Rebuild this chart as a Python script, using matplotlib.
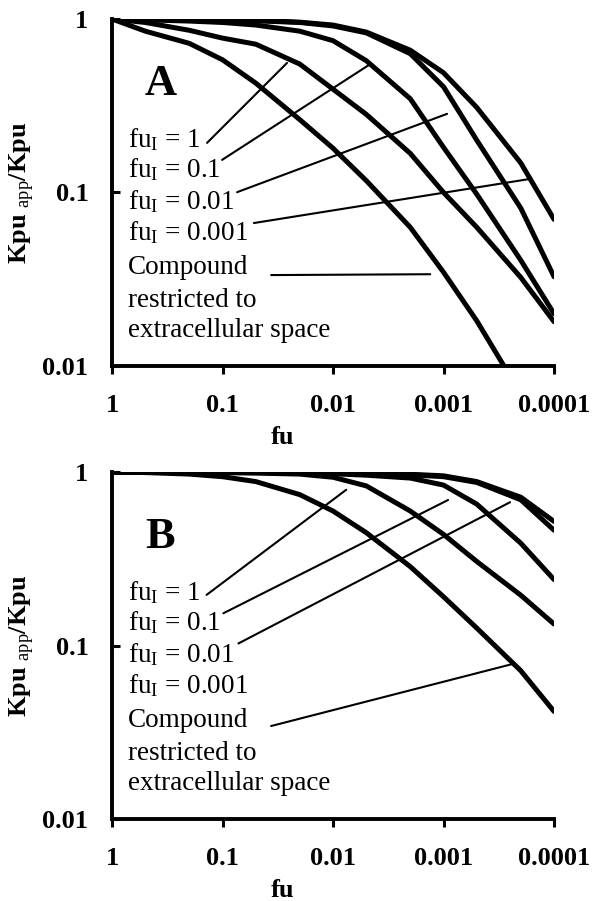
import numpy as np
import matplotlib
matplotlib.use('Agg')
import matplotlib.pyplot as plt
from matplotlib.ticker import FixedLocator, FixedFormatter, NullLocator

plt.rcParams['font.family'] = ['Liberation Serif', 'DejaVu Serif']
plt.rcParams['mathtext.fontset'] = 'custom'
plt.rcParams['mathtext.rm'] = 'Liberation Serif'
plt.rcParams['mathtext.it'] = 'Liberation Serif:italic'
plt.rcParams['mathtext.bf'] = 'Liberation Serif:bold'

# fu values of the plotted points (same for every curve)
fu = [1, 0.5, 0.2, 0.1, 0.05, 0.02, 0.01, 0.005, 0.002, 0.001, 0.0005, 0.0002, 0.0001]

# Panel A - Kpu app/Kpu
a_restricted = [1.0, 0.851, 0.724, 0.582, 0.427, 0.263, 0.180, 0.117, 0.063, 0.0347, 0.0182, 0.0069, 0.0035]
a_fui_1 = [1.0, 0.955, 0.861, 0.776, 0.716, 0.550, 0.394, 0.282, 0.168, 0.100, 0.063, 0.0324, 0.0180]
a_fui_01 = [1.0, 0.989, 0.973, 0.955, 0.923, 0.851, 0.750, 0.575, 0.347, 0.182, 0.0977, 0.0407, 0.020]
a_fui_001 = [1.0, 1.0, 0.993, 0.989, 0.977, 0.955, 0.912, 0.832, 0.631, 0.407, 0.200, 0.0813, 0.0327]
a_fui_0001 = [1.0, 1.0, 0.995, 0.991, 0.982, 0.959, 0.923, 0.841, 0.661, 0.490, 0.309, 0.148, 0.070]

# Panel B - Kpu app/Kpu
b_restricted = [1.0, 0.993, 0.973, 0.940, 0.881, 0.741, 0.596, 0.447, 0.285, 0.191, 0.126, 0.0716, 0.0417]
b_fui_1 = [1.0, 0.998, 0.995, 0.991, 0.986, 0.973, 0.933, 0.832, 0.596, 0.437, 0.305, 0.195, 0.133]
b_fui_01 = [1.0, 1.0, 0.998, 0.995, 0.993, 0.989, 0.977, 0.959, 0.923, 0.841, 0.653, 0.389, 0.240]
b_fui_001 = [1.0, 1.0, 1.0, 0.998, 0.995, 0.993, 0.986, 0.977, 0.964, 0.940, 0.871, 0.692, 0.462]
b_fui_0001 = [1.0, 1.0, 1.0, 0.998, 0.995, 0.993, 0.989, 0.982, 0.971, 0.951, 0.881, 0.716, 0.519]

legend_labels = [r'fu$_{\mathrm{I}}$ = 1', r'fu$_{\mathrm{I}}$ = 0.1', r'fu$_{\mathrm{I}}$ = 0.01',
                 r'fu$_{\mathrm{I}}$ = 0.001', 'Compound', 'restricted to', 'extracellular space']

x_ticks = [1, 0.1, 0.01, 0.001, 0.0001]
x_ticklabels = ['1', '0.1', '0.01', '0.001', '0.0001']
y_ticks = [0.01, 0.1, 1]
y_ticklabels = ['0.01', '0.1', '1']

# where the leader lines end (fu, value), order: fuI 1, 0.1, 0.01, 0.001, restricted
leader_fu_a = [0.0261, 0.00472, 0.000929, 0.000175, 0.00132]
leader_val_a = [0.558, 0.544, 0.284, 0.119, 0.0338]
leader_fu_b = [0.0076, 0.00091, 0.00025, 0.000091, 0.000242]
leader_val_b = [0.79, 0.69, 0.67, 0.53, 0.078]

# start of the leader lines, axes fraction (right after the text)
leader_start_a = [(0.215, 0.643), (0.249, 0.594), (0.283, 0.501), (0.321, 0.412), (0.360, 0.262)]
leader_start_b = [(0.214, 0.646), (0.252, 0.593), (0.286, 0.506), (0.316, 0.420), (0.360, 0.268)]

text_rows = [0.631, 0.545, 0.452, 0.363, 0.265, 0.170, 0.084]


def draw_panel(ax, curves, leader_fu, leader_val, leader_start, letter):
    for vals in curves:
        ax.plot(fu, vals, color='black', lw=3.6, solid_joinstyle='round',
                solid_capstyle='round')

    ax.set_xscale('log')
    ax.set_yscale('log')
    ax.set_xlim(1, 0.0001)
    ax.set_ylim(0.01, 1)

    ax.xaxis.set_major_locator(FixedLocator(x_ticks))
    ax.xaxis.set_major_formatter(FixedFormatter(x_ticklabels))
    ax.xaxis.set_minor_locator(NullLocator())
    ax.yaxis.set_major_locator(FixedLocator(y_ticks))
    ax.yaxis.set_major_formatter(FixedFormatter(y_ticklabels))
    ax.yaxis.set_minor_locator(NullLocator())

    ax.tick_params(axis='x', direction='out', length=6, width=2.2, pad=14,
                   labelsize=19)
    ax.tick_params(axis='y', direction='in', length=6, width=2.2, pad=17,
                   labelsize=19)
    for lab in ax.get_xticklabels() + ax.get_yticklabels():
        lab.set_fontweight('bold')

    for side in ['top', 'right']:
        ax.spines[side].set_visible(False)
    for side in ['left', 'bottom']:
        ax.spines[side].set_linewidth(2.8)

    ax.set_xlabel('fu', fontsize=19, fontweight='bold')
    ax.xaxis.set_label_coords(0.386, -0.172)
    ax.set_ylabel(r'Kpu $_{\mathrm{app}}$/Kpu', fontsize=19, fontweight='bold')
    ax.yaxis.set_label_coords(-0.17, 0.5)

    ax.text(0.109, 0.813, letter, transform=ax.transAxes, fontsize=32,
            fontweight='bold', ha='center', va='center')

    for lab, y in zip(legend_labels, text_rows):
        ax.text(0.036, y, lab, transform=ax.transAxes, fontsize=19.5,
                ha='left', va='baseline')

    for (sx, sy), ex, ey in zip(leader_start, leader_fu, leader_val):
        ax.annotate('', xy=(ex, ey), xycoords='data', xytext=(sx, sy),
                    textcoords='axes fraction',
                    arrowprops=dict(arrowstyle='-', lw=1.5, color='black',
                                    shrinkA=0, shrinkB=0))


fig = plt.figure(figsize=(6, 9.01), dpi=100)
ax_a = fig.add_axes([0.1867, 0.5938, 0.7367, 0.3851])
ax_b = fig.add_axes([0.1867, 0.0910, 0.7367, 0.3851])

draw_panel(ax_a, [a_restricted, a_fui_1, a_fui_01, a_fui_001, a_fui_0001],
           leader_fu_a, leader_val_a, leader_start_a, 'A')
draw_panel(ax_b, [b_restricted, b_fui_1, b_fui_01, b_fui_001, b_fui_0001],
           leader_fu_b, leader_val_b, leader_start_b, 'B')

fig.savefig('out.png', dpi=100)
